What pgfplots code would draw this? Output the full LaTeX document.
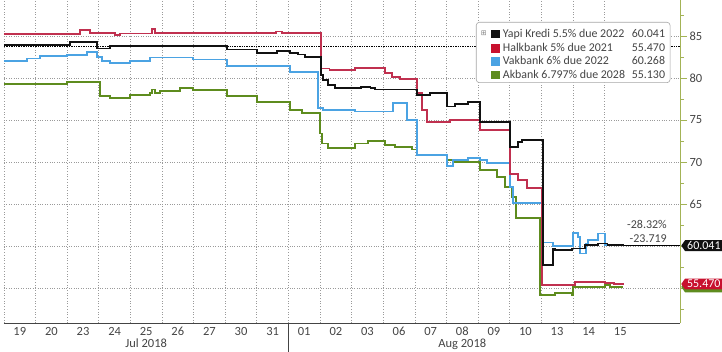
\documentclass[border=0pt]{standalone}
\usepackage{pgfplots}
\pgfplotsset{compat=1.18}
\usepackage{fontspec}
\setmainfont{Carlito}
\newfontfamily\dejavu{DejaVu Sans}
\usetikzlibrary{shapes.symbols}
\definecolor{ykb}{HTML}{111111}
\definecolor{hbr}{HTML}{C0304F}
\definecolor{hbsq}{HTML}{C8102E}
\definecolor{vkb}{HTML}{4BA3E3}
\definecolor{akg}{HTML}{5E8C1E}
\definecolor{axg}{HTML}{A3B356}
\definecolor{txt}{HTML}{444444}
\definecolor{gridc}{HTML}{9A9A9A}
\newcommand\sq[1]{\textcolor{#1}{\rule[-1.2pt]{8.6pt}{8.6pt}}}
\newcommand\lstrut{\rule[-0.9pt]{0pt}{12.3pt}}
\begin{document}
\begin{tikzpicture}
\useasboundingbox (0,0) rectangle (722pt,352pt);
\begin{axis}[
 at={(4pt,29pt)}, anchor=south west,
 scale only axis, width=676pt, height=323pt,
 xmin=0, xmax=21.39, ymin=50.83, ymax=89.29,
 clip=false,
 axis x line*=bottom, axis y line*=right,
 x axis line style={draw=txt, line width=0.9pt, -},
 y axis line style={draw=axg, line width=0.9pt, -},
 xtick={0.5,1.5,...,19.5},
 xticklabels={19,20,23,24,25,26,27,30,31,01,02,03,06,07,08,09,10,13,14,15},
 minor xtick={0,1,...,19},
 xminorgrids,
 ytick={55,60,...,85},
 yticklabels={,,65,70,75,80,85},
 minor ytick={52.5,57.5,...,87.5},
 ymajorgrids,
 tick align=outside,
 major tick length=7pt, minor tick length=4pt,
 x tick style={draw=none},
 y tick style={draw=axg, line width=0.8pt},
 grid style={gridc, dotted, line width=0.7pt},
 minor grid style={gridc, dotted, line width=0.7pt},
 /pgf/number format/assume math mode=true,
 ticklabel style={font=\fontsize{12.5}{14}\selectfont, text=txt},
 xticklabel style={anchor=base, yshift=-5pt},
 yticklabel style={anchor=west, xshift=-1pt},
]
% reference line (start level of Yapi Kredi)
\addplot[black, dash pattern=on 1.3pt off 1.1pt, line width=1.5pt] coordinates {(0,83.76)(21.39,83.76)};
\addplot[black, line width=0.6pt] coordinates {(19.59,60.041)(21.39,60.041)};

% Akbank 6.797% due 2028
\addplot[const plot, akg, line width=1.7pt] coordinates {
(0,79.29)(1.99,79.56)(3.04,77.86)(3.35,77.66)(3.99,77.98)(4.62,78.2)(4.68,78.65)(4.78,78.2)(4.94,78.49)(5.57,78.77)(5.98,78.57)(7.06,77.86)(8.01,77.18)(9.05,76.19)(9.43,75.87)(10.0,73.4)(10.06,72.2)(10.25,71.63)(11.11,72.2)(11.52,72.5)(12.06,72.0)(12.37,71.75)(12.9,71.5)(13.07,70.83)(14.02,70.24)(14.27,70.04)(15.06,69.05)(15.6,68.25)(15.85,67.06)(16.08,65.87)(16.2,63.3)(16.96,54.17)(17.44,54.37)(17.97,54.17)(18.01,55.08)(19.02,55.36)(19.18,55.13)(19.59,55.13)};
% Vakbank 6% due 2022
\addplot[const plot, vkb, line width=1.7pt] coordinates {
(0,82.06)(0.73,82.34)(1.14,82.62)(1.99,82.74)(2.63,83.06)(2.94,82.5)(3.1,82.0)(3.35,81.75)(3.99,82.0)(4.62,82.46)(5.98,82.2)(7.06,81.43)(9.05,80.75)(9.94,76.39)(10.09,76.19)(11.11,76.0)(12.31,76.99)(12.75,75.0)(13.07,70.83)(14.02,69.52)(14.21,70.24)(14.68,70.44)(15.06,70.24)(15.28,69.84)(16.01,67.06)(16.11,65.08)(17.03,60.42)(17.37,60.0)(18.01,61.51)(18.16,61.1)(18.23,59.1)(18.42,60.3)(18.48,60.7)(18.8,61.5)(19.02,60.1)(19.59,60.268)};
% Halkbank 5% due 2021
\addplot[const plot, hbr, line width=1.7pt] coordinates {
(0,85.24)(2.41,85.71)(2.72,85.4)(3.51,85.12)(3.67,85.3)(4.68,85.8)(4.78,85.4)(8.5,85.4)(8.6,85.55)(8.8,85.4)(10.03,81.15)(10.3,80.95)(11.1,81.2)(12.06,80.56)(12.28,80.16)(12.53,79.85)(13.07,78.2)(13.23,76.2)(13.39,74.8)(14.11,75.0)(15.06,73.8)(16.01,68.6)(16.27,67.86)(16.55,66.87)(17.03,55.36)(18.07,55.75)(19.02,55.6)(19.3,55.5)(19.59,55.47)};
% Yapi Kredi 5.5% due 2022
\addplot[const plot, ykb, line width=1.7pt] coordinates {
(0,83.93)(2.09,84.32)(2.94,83.53)(3.35,83.81)(7.06,83.41)(8.01,83.0)(8.64,83.25)(9.05,82.94)(9.3,82.8)(9.53,82.54)(10.03,80.36)(10.09,79.76)(10.25,79.17)(10.47,78.77)(11.3,78.95)(11.6,78.77)(11.74,78.65)(13.07,77.98)(13.48,78.18)(14.02,76.6)(14.27,76.9)(14.68,77.18)(15.06,74.8)(16.01,71.82)(16.27,72.42)(16.39,72.62)(17.06,57.74)(17.37,59.7)(17.44,59.5)(17.97,59.7)(18.39,60.1)(18.8,60.3)(19.1,60.1)(19.59,60.041)};

% legend
\node[anchor=north west, draw=gray!70, line width=0.6pt, rounded corners=3pt, fill=white,
  inner xsep=0pt, inner ysep=3.4pt, align=left, text=txt, font=\fontsize{11.9}{13.3}\selectfont]
  at (rel axis cs:0.6982,0.9319) {%
  \hspace*{3pt}\makebox[9pt][c]{\raisebox{2pt}{\dejavu\fontsize{7}{7}\selectfont\textcolor{gray}{⊞}}}\hspace{3pt}\sq{ykb}\hspace{3pt}\makebox[129pt][l]{Yapi Kredi 5.5\% due 2022}60.041\hspace{5pt}\lstrut\\
  \hspace*{15pt}\sq{hbsq}\hspace{3pt}\makebox[129pt][l]{Halkbank 5\% due 2021}55.470\hspace{5pt}\lstrut\\
  \hspace*{15pt}\sq{vkb}\hspace{3pt}\makebox[129pt][l]{Vakbank 6\% due 2022}60.268\hspace{5pt}\lstrut\\
  \hspace*{15pt}\sq{akg}\hspace{3pt}\makebox[129pt][l]{Akbank 6.797\% due 2028}55.130\hspace{5pt}\lstrut};

% month labels and separator
\draw[txt, line width=0.9pt] (axis cs:9,50.83) -- ++(0,-29pt);
\node[anchor=base, font=\fontsize{12.5}{14}\selectfont, text=txt] at ([yshift=-24pt]axis cs:4.5,50.83) {Jul 2018};
\node[anchor=base, font=\fontsize{12.5}{14}\selectfont, text=txt] at ([yshift=-24pt]axis cs:14.5,50.83) {Aug 2018};

% change annotation
\node[anchor=south east, align=right, font=\fontsize{12}{14}\selectfont, text=txt, inner sep=1pt] at ([yshift=2pt]axis cs:21.01,60.041) {-28.32\%\\-23.719};

% value tags
\node[signal, signal to=west, signal pointer angle=110, fill=akg, text=white, inner xsep=2pt, inner ysep=1.5pt, anchor=west, font=\fontsize{12}{12}\selectfont] at ([xshift=1pt]axis cs:21.39,55.13) {\phantom{55.130}};
\node[signal, signal to=west, signal pointer angle=110, fill=hbsq, text=white, inner xsep=2pt, inner ysep=1.5pt, anchor=west, font=\fontsize{12}{12}\selectfont] at ([xshift=1pt]axis cs:21.39,55.47) {55.470};
\node[signal, signal to=west, signal pointer angle=110, fill=ykb, text=white, inner xsep=2pt, inner ysep=1.5pt, anchor=west, font=\fontsize{12}{12}\selectfont] at ([xshift=1pt]axis cs:21.39,60.041) {60.041};
\end{axis}
\end{tikzpicture}
\end{document}
